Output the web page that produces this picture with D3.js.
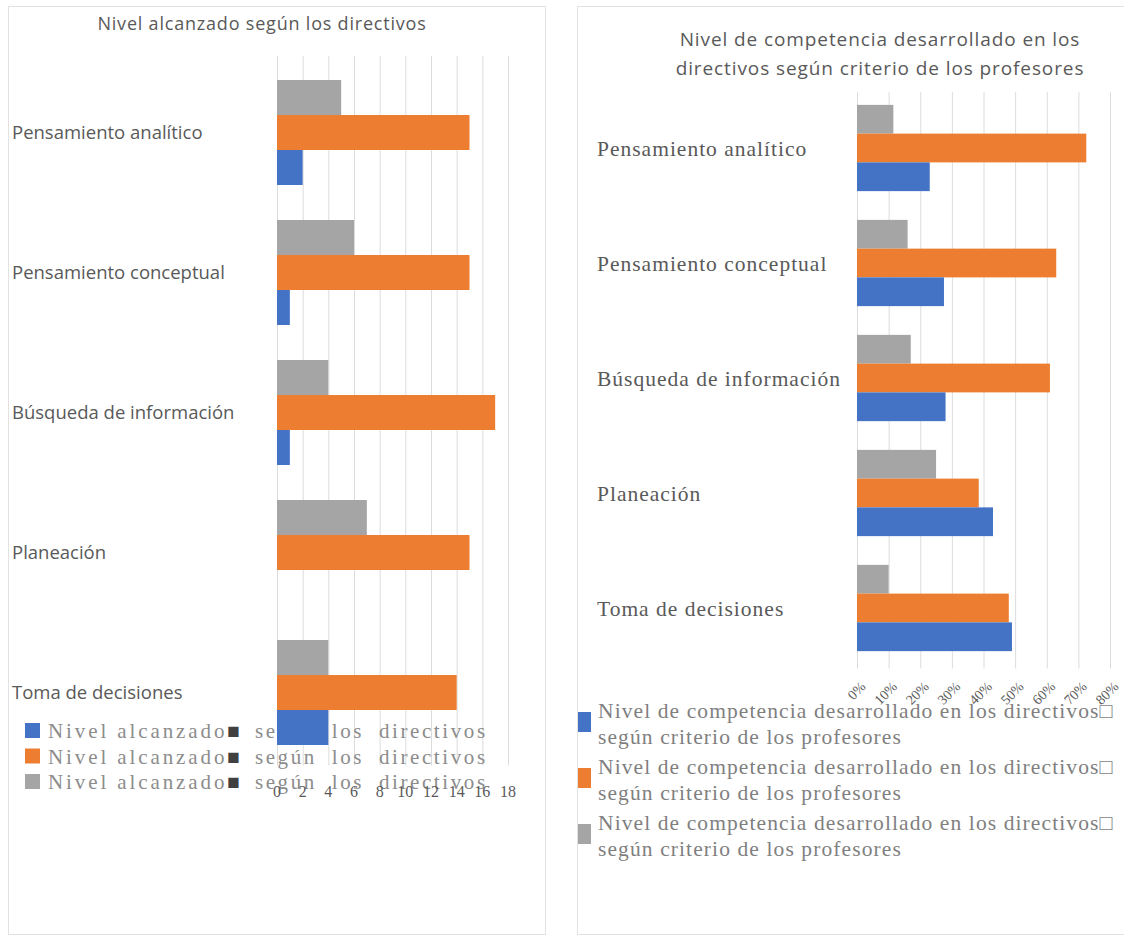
<!DOCTYPE html>
<html><head><meta charset="utf-8">
<script src="https://cdn.jsdelivr.net/npm/d3@7"></script>
<style>body{margin:0;background:#fff}svg{display:block}</style>
</head><body>
<svg id="c" width="1124" height="938"></svg>
<script>
const categories = ["Pensamiento analítico","Pensamiento conceptual","Búsqueda de información","Planeación","Toma de decisiones"];
// left chart: Nivel alcanzado según los directivos
const leftBlue   = [2, 1, 1, 0, 4];
const leftOrange = [15, 15, 17, 15, 14];
const leftGray   = [5, 6, 4, 7, 4];
const leftTicks  = [0, 2, 4, 6, 8, 10, 12, 14, 16, 18];
const leftTitle  = "Nivel alcanzado según los directivos";
const leftLegend = ["Nivel alcanzado", " según los  directivos"];
// right chart: Nivel de competencia desarrollado ... según criterio de los profesores
const rightBlue   = [0.23, 0.275, 0.28, 0.43, 0.49];
const rightOrange = [0.725, 0.63, 0.61, 0.385, 0.48];
const rightGray   = [0.115, 0.16, 0.17, 0.25, 0.10];
const rightTicks  = [0, 0.1, 0.2, 0.3, 0.4, 0.5, 0.6, 0.7, 0.8];
const rightTitle  = ["Nivel de competencia desarrollado en los", "directivos  según criterio de los profesores"];
const rightLegend = ["Nivel de competencia desarrollado en los directivos\u25A1", "según criterio de los profesores"];

const seriesKeys = ["gray","orange","blue"];
const colors = {blue:"#4472C4", orange:"#ED7D31", gray:"#A5A5A5"};
const svg = d3.select("#c");

// panel frames
svg.append("rect").attr("x",8.5).attr("y",6.5).attr("width",537).attr("height",928).attr("fill","none").attr("stroke","#e2e2e2");
svg.append("rect").attr("x",577.5).attr("y",6.5).attr("width",560).attr("height",928).attr("fill","none").attr("stroke","#e2e2e2");

function drawChart(o){
  const g = svg.append("g");
  const x = d3.scaleLinear().domain(o.domain).range(o.xr);
  const y = d3.scaleBand().domain(categories).range(o.yr).paddingInner(0.25).paddingOuter(0.125);
  const ys = d3.scaleBand().domain(seriesKeys).range([0, y.bandwidth()]);
  g.selectAll(".grid").data(o.ticks).join("line")
    .attr("x1", d=>x(d)+0.5).attr("x2", d=>x(d)+0.5)
    .attr("y1", o.gridTop).attr("y2", o.yr[1]+3)
    .attr("stroke","#dcdcdc").attr("stroke-width",1);
  g.selectAll(".cat").data(categories).join("text")
    .attr("x", o.catX).attr("y", d=>y(d)+y.bandwidth()/2)
    .attr("dy","0.35em")
    .attr("font-family", o.catFont).attr("font-size", o.catSize)
    .attr("letter-spacing", o.catLS || 0)
    .attr("fill","#595959").text(d=>d);
  o.before && o.before(g);
  const rows = categories.map((c,i)=>({c, blue:o.data.blue[i], orange:o.data.orange[i], gray:o.data.gray[i]}));
  seriesKeys.forEach(k=>{
    g.selectAll(".b"+k).data(rows).join("rect")
      .attr("x", x(0)).attr("y", d=>y(d.c)+ys(k))
      .attr("width", d=>x(d[k])-x(0)).attr("height", ys.bandwidth())
      .attr("fill", colors[k]);
  });
  return {g,x,y};
}

// ---------- LEFT ----------
svg.append("text").attr("x",262).attr("y",30).attr("text-anchor","middle")
  .attr("font-family","Open Sans").attr("font-size",18).attr("letter-spacing","0.8px")
  .attr("fill","#595959").text(leftTitle);

const L = drawChart({
  domain:[0,18], xr:[277,508], yr:[62.5,762.5], gridTop:56, ticks:leftTicks,
  catX:12, catFont:"Open Sans", catSize:18.5,
  data:{blue:leftBlue, orange:leftOrange, gray:leftGray},
  before:(g)=>{
    const lg = g.append("g");
    ["blue","orange","gray"].forEach((k,i)=>{
      const yy = 731 + i*25.5;
      lg.append("rect").attr("x",25).attr("y",yy-8).attr("width",15).attr("height",15).attr("fill",colors[k]);
      const t = lg.append("text").attr("x",48).attr("y",yy).attr("dy","0.35em")
        .attr("font-family","Liberation Serif").attr("font-size",21).attr("fill","#8c8c8c");
      t.append("tspan").attr("letter-spacing","2.9px").text(leftLegend[0]);
      t.append("tspan").attr("fill","#404040").text("\u25A0");
      t.append("tspan").attr("letter-spacing","2.6px").attr("word-spacing","7px").text(leftLegend[1]);
    });
  }
});
svg.append("g").selectAll("text").data(leftTicks).join("text")
  .attr("x", d=>L.x(d)).attr("y",791).attr("dy","0.35em").attr("text-anchor","middle")
  .attr("font-family","Liberation Serif").attr("font-size",16).attr("fill","#595959").text(d=>d);

// ---------- RIGHT ----------
svg.append("g").selectAll("text").data(rightTitle).join("text")
  .attr("x",880).attr("y",(d,i)=>46+i*29).attr("text-anchor","middle")
  .attr("font-family","Open Sans").attr("font-size",19).attr("letter-spacing","0.9px")
  .attr("fill","#595959").text(d=>d);

const R = drawChart({
  domain:[0,0.8], xr:[857,1110], yr:[90.5,665.5], gridTop:92, ticks:rightTicks,
  catX:597, catFont:"Liberation Serif", catSize:21.5, catLS:"1px",
  data:{blue:rightBlue, orange:rightOrange, gray:rightGray}
});
svg.append("g").selectAll("text").data(rightTicks).join("text")
  .attr("transform", d=>`translate(${R.x(d)+6},684) rotate(-45)`)
  .attr("text-anchor","end").attr("dy","0.35em")
  .attr("font-family","Liberation Serif").attr("font-size",14).attr("fill","#595959")
  .text(d=>d3.format(".0%")(d));

const rl = svg.append("g");
["blue","orange","gray"].forEach((k,i)=>{
  const yy = 710 + i*56;
  rl.append("rect").attr("x",578).attr("y",yy+2).attr("width",13).attr("height",20).attr("fill",colors[k]);
  rightLegend.forEach((s,j)=>{
    rl.append("text").attr("x",598).attr("y",yy+j*26).attr("dy","0.35em")
      .attr("font-family","Liberation Serif").attr("font-size",21.5).attr("letter-spacing","1.1px")
      .attr("fill","#7f7f7f").text(s);
  });
});
</script>
</body></html>
